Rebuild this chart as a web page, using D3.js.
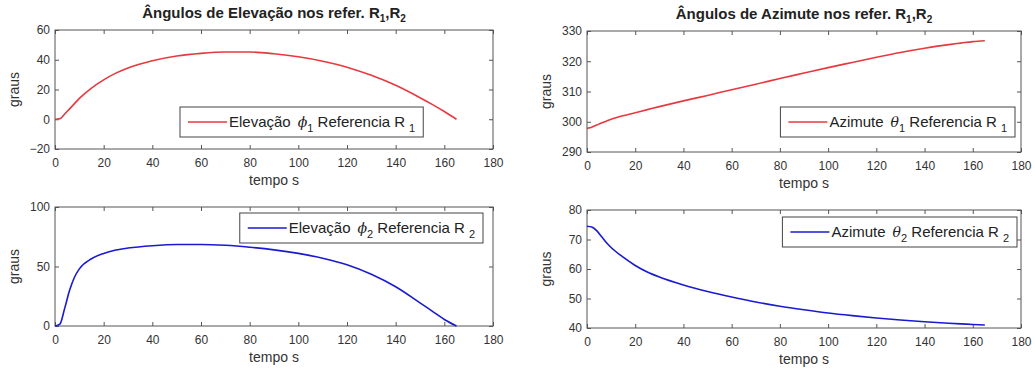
<!DOCTYPE html>
<html>
<head>
<meta charset="utf-8">
<script src="https://cdn.jsdelivr.net/npm/d3@7"></script>
<style>
  body { margin: 0; background: #fff; }
  svg { font-family: "Liberation Sans", Arial, sans-serif; }
  .tick text { fill: #333; font-size: 12px; }
  .tick line { stroke: #555; }
</style>
</head>
<body>
<div id="chart"></div>
<script>
// time samples (s)
const tempo = [0, 2, 4, 6, 8, 10, 15, 20, 25, 30, 40, 50, 60, 70, 80, 90, 100, 110, 120, 130, 140, 150, 155, 160, 165];

// elevation phi1, ref R1
const elev1 = [0, 0.3, 3.5, 7, 10.5, 14, 21, 26.5, 31, 34.5, 39.3, 42.5, 44.3, 45.2, 45.2, 44, 42, 39, 35, 29.5, 22.8, 14.5, 10, 5.2, 0];
// azimuth theta1, ref R1
const azim1 = [297.8, 298.2, 298.9, 299.6, 300.2, 300.8, 302, 303, 304, 305, 306.9, 308.7, 310.6, 312.4, 314.3, 316.1, 317.9, 319.6, 321.3, 322.9, 324.3, 325.5, 326, 326.5, 326.8];
// elevation phi2, ref R2
const elev2 = [0, 1.5, 15, 30, 41, 48, 56.5, 61, 63.8, 65.5, 67.5, 68.5, 68.5, 67.8, 66.2, 64, 61, 57, 51.5, 43.5, 33, 19.5, 12.5, 5.5, 0];
// azimuth theta2, ref R2
const azim2 = [74.5, 74.2, 73, 71, 69, 67.3, 64, 61.2, 59, 57.3, 54.6, 52.4, 50.5, 48.8, 47.4, 46.2, 45.1, 44.2, 43.4, 42.7, 42.1, 41.6, 41.4, 41.2, 41];

const xTicks = [0, 20, 40, 60, 80, 100, 120, 140, 160, 180];
const yTicksElev1 = [-20, 0, 20, 40, 60];
const yTicksAzim1 = [290, 300, 310, 320, 330];
const yTicksElev2 = [0, 50, 100];
const yTicksAzim2 = [40, 50, 60, 70, 80];

const titles = ['Ângulos de Elevação nos refer. R', 'Ângulos de Azimute nos refer. R'];

const panels = [
  { box: [55, 30, 493, 149], vals: elev1, yTicks: yTicksElev1, color: '#e8383f', title: titles[0],
    name: 'Elevação', sym: 'ϕ', idx: '1', leg: { left: 180, top: 107 } },
  { box: [587, 31, 1021, 152], vals: azim1, yTicks: yTicksAzim1, color: '#e8383f', title: titles[1],
    name: 'Azimute', sym: 'θ', idx: '1', leg: { right: 1015, top: 107 } },
  { box: [55, 207, 493, 326], vals: elev2, yTicks: yTicksElev2, color: '#1a1ad2',
    name: 'Elevação', sym: 'ϕ', idx: '2', leg: { right: 483, top: 213 } },
  { box: [587, 210, 1021, 328], vals: azim2, yTicks: yTicksAzim2, color: '#1a1ad2',
    name: 'Azimute', sym: 'θ', idx: '2', leg: { right: 1017, top: 217 } }
];

const svg = d3.select('#chart').append('svg')
  .attr('width', 1035)
  .attr('height', 370);

panels.forEach(p => {
  const [x0, y0, x1, y1] = p.box;
  const x = d3.scaleLinear().domain([0, 180]).range([x0, x1]);
  const yDom = d3.extent(p.yTicks);
  const y = d3.scaleLinear().domain(yDom).range([y1, y0]);
  const tl = 4;

  const g = svg.append('g');

  // axes with inward ticks on all four sides
  g.append('g')
    .attr('transform', 'translate(0,' + y1 + ')')
    .call(d3.axisBottom(x).tickValues(xTicks).tickSizeInner(-tl).tickSizeOuter(0).tickPadding(9))
    .call(a => a.select('.domain').remove());
  g.append('g')
    .attr('transform', 'translate(0,' + y0 + ')')
    .call(d3.axisTop(x).tickValues(xTicks).tickSizeInner(-tl).tickSizeOuter(0).tickFormat(''))
    .call(a => a.select('.domain').remove());
  g.append('g')
    .attr('transform', 'translate(' + x0 + ',0)')
    .call(d3.axisLeft(y).tickValues(p.yTicks).tickSizeInner(-tl).tickSizeOuter(0).tickPadding(5))
    .call(a => a.select('.domain').remove());
  g.append('g')
    .attr('transform', 'translate(' + x1 + ',0)')
    .call(d3.axisRight(y).tickValues(p.yTicks).tickSizeInner(-tl).tickSizeOuter(0).tickFormat(''))
    .call(a => a.select('.domain').remove());

  g.append('rect')
    .attr('x', x0).attr('y', y0)
    .attr('width', x1 - x0).attr('height', y1 - y0)
    .attr('fill', 'none')
    .attr('stroke', '#555')
    .attr('stroke-width', 1);

  // data line
  const line = d3.line()
    .x((d, i) => x(tempo[i]))
    .y(d => y(d))
    .curve(d3.curveMonotoneX);
  g.append('path')
    .datum(p.vals)
    .attr('fill', 'none')
    .attr('stroke', p.color)
    .attr('stroke-width', 1.6)
    .attr('d', line);

  // axis labels
  g.append('text')
    .attr('x', (x0 + x1) / 2)
    .attr('y', y1 + 36)
    .attr('text-anchor', 'middle')
    .attr('font-size', 14)
    .attr('fill', '#333')
    .text('tempo s');
  g.append('text')
    .attr('transform', 'translate(' + (x0 - 36) + ',' + ((y0 + y1) / 2) + ') rotate(-90)')
    .attr('text-anchor', 'middle')
    .attr('font-size', 14)
    .attr('fill', '#333')
    .text('graus');

  // title
  if (p.title) {
    const t = g.append('text')
      .attr('x', (x0 + x1) / 2)
      .attr('y', y0 - 12)
      .attr('text-anchor', 'middle')
      .attr('font-size', 15)
      .attr('font-weight', 'bold')
      .attr('fill', '#222');
    t.append('tspan').text(p.title);
    t.append('tspan').attr('font-size', 10).attr('dy', 4).text('1');
    t.append('tspan').attr('dy', -4).text(',R');
    t.append('tspan').attr('font-size', 10).attr('dy', 4).text('2');
  }

  // legend
  const lg = g.append('g');
  const boxH = 30;
  const lt = lg.append('text')
    .attr('x', 49)
    .attr('y', 20)
    .attr('font-size', 15)
    .attr('fill', '#222');
  lt.append('tspan').text(p.name);
  lt.append('tspan').attr('dx', 7).attr('font-style', 'italic').attr('font-family', 'DejaVu Serif').attr('font-size', 14).text(p.sym);
  lt.append('tspan').attr('font-size', 11).attr('dy', 5).text(p.idx);
  lt.append('tspan').attr('dy', -5).text(' Referencia R');
  lt.append('tspan').attr('dx', 4).attr('font-size', 11).attr('dy', 5).text(p.idx);
  const bb = lt.node().getBBox();
  const boxW = bb.x + bb.width + 8;
  const lx = p.leg.left !== undefined ? p.leg.left : p.leg.right - boxW;
  lg.attr('transform', 'translate(' + lx + ',' + p.leg.top + ')');
  lg.insert('rect', 'text')
    .attr('x', 0).attr('y', 0)
    .attr('width', boxW).attr('height', boxH)
    .attr('fill', '#fff')
    .attr('stroke', '#444')
    .attr('stroke-width', 1);
  lg.append('line')
    .attr('x1', 8).attr('x2', 47)
    .attr('y1', boxH / 2).attr('y2', boxH / 2)
    .attr('stroke', p.color)
    .attr('stroke-width', 1.6);
});
</script>
</body>
</html>
